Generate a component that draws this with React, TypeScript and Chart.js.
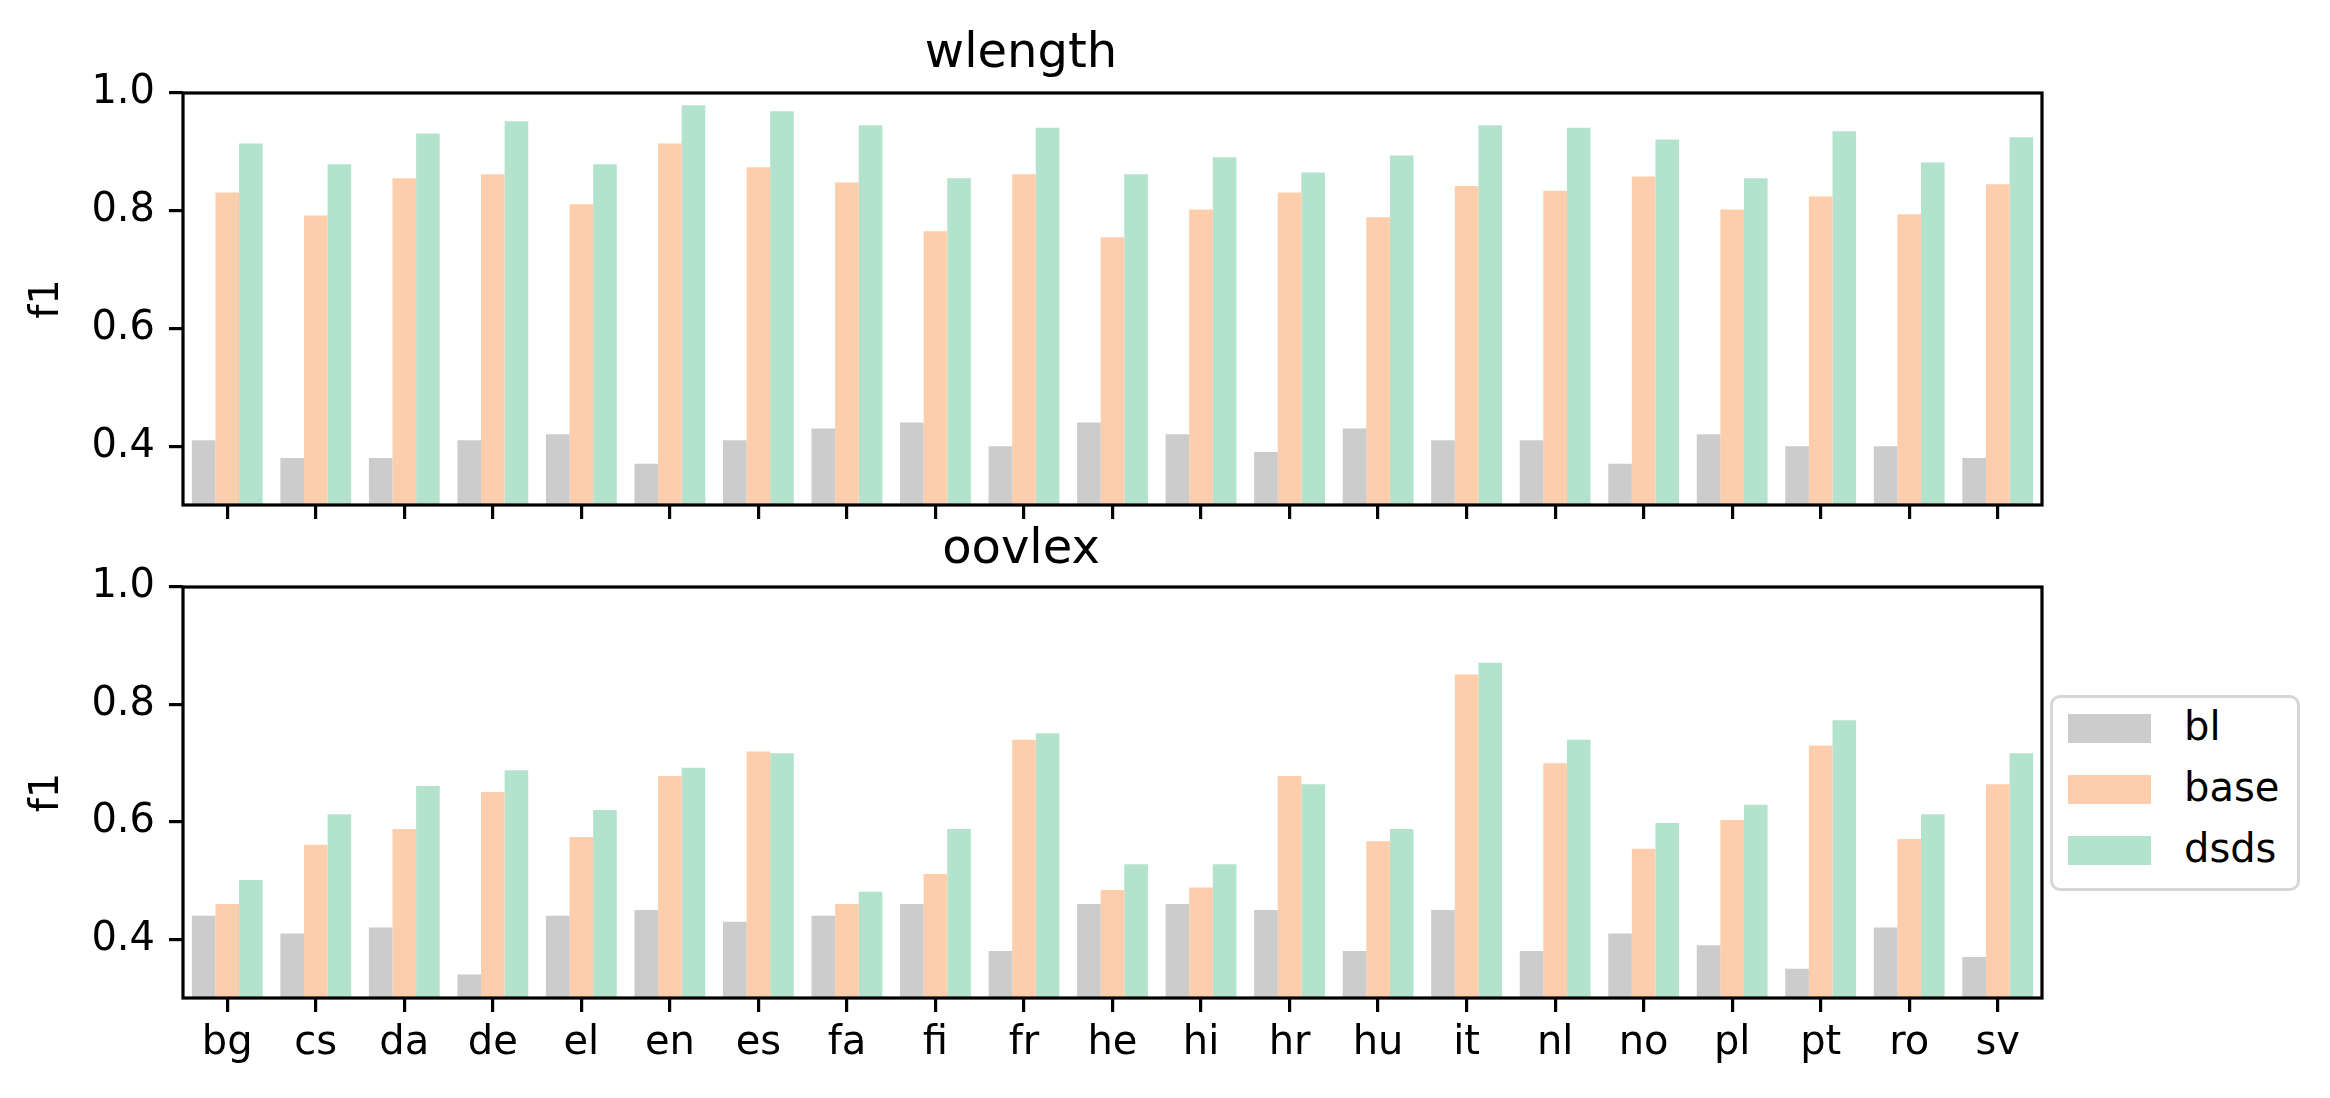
import React, { useEffect, useRef } from 'react';
import { Chart, registerables } from 'chart.js';

Chart.register(...registerables);

const LANGS = ['bg', 'cs', 'da', 'de', 'el', 'en', 'es', 'fa', 'fi', 'fr', 'he', 'hi', 'hr', 'hu', 'it', 'nl', 'no', 'pl', 'pt', 'ro', 'sv'];
const SERIES = ['bl', 'base', 'dsds'];
const COLORS = ['#cccccc', '#fdcdac', '#b3e2cd'];

const WLENGTH_BL = [0.41, 0.38, 0.38, 0.41, 0.42, 0.37, 0.41, 0.43, 0.44, 0.40, 0.44, 0.42, 0.39, 0.43, 0.41, 0.41, 0.37, 0.42, 0.40, 0.40, 0.38];
const WLENGTH_BASE = [0.831, 0.792, 0.855, 0.862, 0.811, 0.914, 0.874, 0.848, 0.765, 0.862, 0.755, 0.802, 0.831, 0.789, 0.842, 0.834, 0.858, 0.802, 0.824, 0.794, 0.845];
const WLENGTH_DSDS = [0.914, 0.879, 0.931, 0.952, 0.879, 0.979, 0.969, 0.945, 0.855, 0.941, 0.862, 0.891, 0.865, 0.894, 0.945, 0.941, 0.921, 0.855, 0.935, 0.882, 0.925];

const OOVLEX_BL = [0.44, 0.41, 0.42, 0.34, 0.44, 0.45, 0.43, 0.44, 0.46, 0.38, 0.46, 0.46, 0.45, 0.38, 0.45, 0.38, 0.41, 0.39, 0.35, 0.42, 0.37];
const OOVLEX_BASE = [0.460, 0.561, 0.588, 0.651, 0.574, 0.678, 0.720, 0.460, 0.511, 0.740, 0.484, 0.488, 0.678, 0.567, 0.851, 0.700, 0.554, 0.603, 0.730, 0.571, 0.664];
const OOVLEX_DSDS = [0.501, 0.613, 0.661, 0.688, 0.620, 0.692, 0.717, 0.481, 0.588, 0.751, 0.528, 0.528, 0.664, 0.588, 0.871, 0.740, 0.598, 0.629, 0.773, 0.613, 0.717];

const Y_MIN = 0.3;
const Y_MAX = 1.0;
const Y_TICKS = [0.4, 0.6, 0.8, 1.0];

const FONT = "'DejaVu Sans', sans-serif";
const LW = 3.2;

const framePlugin = {
  id: 'frame',
  afterDraw(chart: any) {
    const { ctx, chartArea } = chart;
    const { left, top, right, bottom } = chartArea;
    ctx.save();
    ctx.strokeStyle = '#000';
    ctx.lineWidth = LW;
    ctx.strokeRect(left, top, right - left, bottom - top);
    ctx.restore();
  },
};

type PanelProps = {
  title: string;
  series: number[][];
  showXLabels: boolean;
  top: number;
  height: number;
  titlePad: { top: number; bottom: number };
  xAxisHeight: number;
};

function Panel({ title, series, showXLabels, top, height, titlePad, xAxisHeight }: PanelProps) {
  const ref = useRef<HTMLCanvasElement | null>(null);
  useEffect(() => {
    if (!ref.current) return;
    const chart = new Chart(ref.current, {
      type: 'bar',
      data: {
        labels: LANGS,
        datasets: SERIES.map((name, i) => ({
          label: name,
          data: series[i],
          backgroundColor: COLORS[i],
          borderWidth: 0,
          categoryPercentage: 0.8,
          barPercentage: 1.0,
        })),
      },
      options: {
        animation: false,
        responsive: false,
        devicePixelRatio: 1,
        layout: { padding: { left: 0, right: 288, top: 0, bottom: 0 } },
        plugins: {
          legend: { display: false },
          tooltip: { enabled: false },
          title: {
            display: true,
            text: title,
            color: '#000',
            font: { family: FONT, size: 48, weight: 'normal' },
            padding: titlePad,
          },
        },
        scales: {
          x: {
            type: 'category',
            offset: true,
            grid: {
              display: true,
              offset: false,
              drawOnChartArea: false,
              drawTicks: true,
              tickLength: 14,
              color: '#000',
              lineWidth: LW,
            },
            border: { display: false },
            ticks: {
              display: showXLabels,
              color: '#000',
              font: { family: FONT, size: 40 },
              padding: 8,
              maxRotation: 0,
              autoSkip: false,
            },
            afterFit(scale: any) {
              scale.height = xAxisHeight;
            },
          },
          y: {
            type: 'linear',
            min: Y_MIN,
            max: Y_MAX,
            grid: {
              display: true,
              drawOnChartArea: false,
              drawTicks: true,
              tickLength: 14,
              color: '#000',
              lineWidth: LW,
            },
            border: { display: false },
            ticks: {
              color: '#000',
              font: { family: FONT, size: 40 },
              padding: 14,
              callback: (v: any) => Number(v).toFixed(1),
            },
            afterBuildTicks(scale: any) {
              scale.ticks = Y_TICKS.map((v) => ({ value: v }));
            },
            afterFit(scale: any) {
              scale.width = 183;
            },
            title: {
              display: true,
              text: 'f1',
              color: '#000',
              font: { family: FONT, size: 40 },
              padding: { top: 24, bottom: 0 },
            },
          },
        },
      },
      plugins: [framePlugin],
    } as any);
    return () => chart.destroy();
  }, []);
  return (
    <canvas
      ref={ref}
      width={2330}
      height={height}
      style={{ position: 'absolute', left: 0, top, width: 2330, height }}
    />
  );
}

function Legend() {
  const rows = SERIES.map((name, i) => (
    <div key={name} style={{ position: 'absolute', left: 0, top: 33 + i * 61 - 3, width: 250, height: 1 }}>
      <div
        style={{
          position: 'absolute',
          left: 15,
          top: -14.5,
          width: 83,
          height: 29,
          background: COLORS[i],
        }}
      />
      <div
        style={{
          position: 'absolute',
          left: 131,
          top: -26,
          fontFamily: FONT,
          fontSize: 40,
          lineHeight: '48px',
          color: '#000',
          whiteSpace: 'nowrap',
        }}
      >
        {name}
      </div>
    </div>
  ));
  return (
    <div
      style={{
        position: 'absolute',
        left: 2050,
        top: 695,
        width: 250,
        height: 196,
        boxSizing: 'border-box',
        border: '3px solid #d6d6d6',
        borderRadius: 10,
        background: '#fff',
      }}
    >
      {rows}
    </div>
  );
}

export default function App() {
  return (
    <div style={{ position: 'absolute', left: 0, top: 0, width: 2330, height: 1098, background: '#fff', overflow: 'hidden' }}>
      <Panel
        title="wlength"
        series={[WLENGTH_BL, WLENGTH_BASE, WLENGTH_DSDS]}
        showXLabels={false}
        top={0}
        height={549}
        titlePad={{ top: 26, bottom: 9.4 }}
        xAxisHeight={44}
      />
      <Panel
        title="oovlex"
        series={[OOVLEX_BL, OOVLEX_BASE, OOVLEX_DSDS]}
        showXLabels={true}
        top={510}
        height={588}
        titlePad={{ top: 12, bottom: 7.4 }}
        xAxisHeight={100}
      />
      <Legend />
    </div>
  );
}
